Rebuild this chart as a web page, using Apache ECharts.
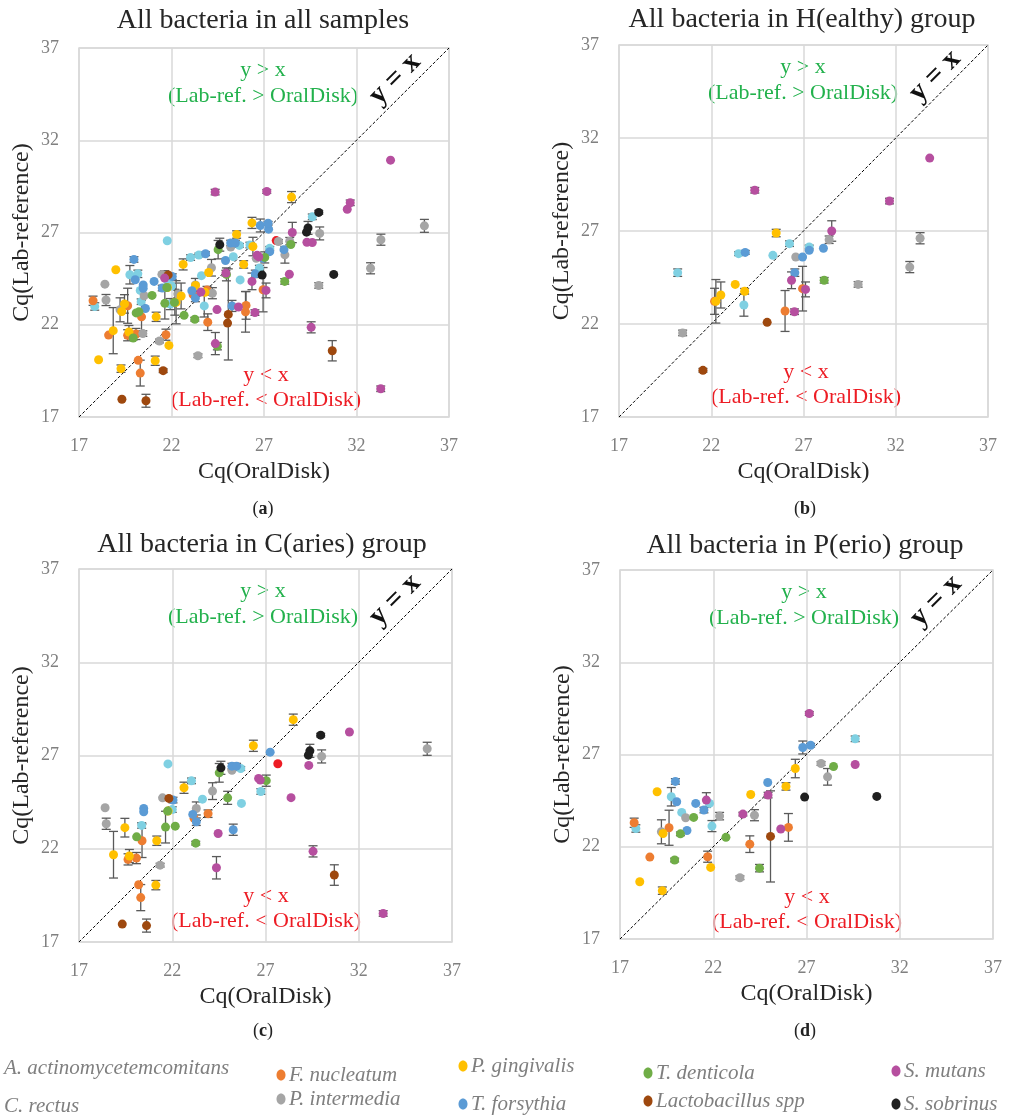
<!DOCTYPE html>
<html>
<head>
<meta charset="utf-8">
<script src="https://cdn.jsdelivr.net/npm/echarts/dist/echarts.min.js"></script>
<style>
  html, body { margin: 0; padding: 0; background: #fff; }
  #chart { width: 1012px; height: 1116px; }
</style>
</head>
<body>
<div id="chart"></div>
<script>
// Cq values: [Cq(OralDisk), Cq(Lab-reference), error (±)] for each sample

// ---- H(ealthy) group ----
const H_Aa = [];
const H_Cr = [[20.18, 24.76, 0.2], [23.48, 25.78, 0.1], [25.34, 25.69, 0], [26.24, 26.32, 0.15], [27.31, 26.14, 0.1], [23.77, 23.02, 0.6]];
const H_Fn = [[26.95, 23.90, 1.2], [26.0, 22.70, 1.1], [22.18, 23.22, 0.7]];
const H_Pi = [[20.45, 21.52, 0.15], [26.58, 25.60, 0], [28.39, 26.53, 0.2], [33.32, 26.61, 0.3], [32.76, 25.06, 0.3], [29.96, 24.13, 0.15]];
const H_Pg = [[25.52, 26.89, 0.2], [23.30, 24.13, 0], [23.81, 23.76, 0.15], [22.52, 23.56, 0.7], [22.25, 23.22, 1.17]];
const H_Tf = [[23.84, 25.85, 0.1], [26.95, 25.60, 0], [27.31, 25.96, 0], [28.08, 26.07, 0], [26.53, 24.76, 0.2]];
const H_Td = [[28.12, 24.35, 0.15]];
const H_Lb = [[21.55, 19.51, 0.1], [25.03, 22.09, 0]];
const H_Sm = [[24.36, 29.19, 0.15], [28.53, 27.0, 0.55], [33.84, 30.92, 0], [31.66, 28.61, 0.15], [26.35, 24.35, 0.45], [27.11, 23.86, 0.4], [26.51, 22.66, 0.15]];
const H_Ss = [];

// ---- C(aries) group ----
const C_Aa = [[27.66, 26.56, 0]];
const C_Cr = [[21.77, 26.55, 0], [23.03, 25.64, 0.15], [25.67, 26.3, 0.1], [26.75, 25.07, 0.15], [25.71, 24.43, 0], [23.62, 24.66, 0], [22.0, 24.1, 0.15], [20.36, 23.25, 0.15]];
const C_Fn = [[23.92, 23.88, 0.2], [23.17, 23.63, 0], [20.38, 22.43, 0.9], [19.63, 21.43, 0.3], [20.08, 21.5, 0.3], [20.2, 20.07, 0], [20.31, 19.38, 0.7]];
const C_Pi = [[25.2, 26.21, 0], [24.16, 25.09, 0.45], [21.48, 24.73, 0], [18.40, 24.2, 0], [23.29, 24.16, 0.35], [18.46, 23.34, 0.3], [21.35, 21.12, 0.1], [30.01, 26.95, 0.35], [35.67, 27.36, 0.35]];
const C_Pg = [[26.35, 27.52, 0.3], [22.63, 25.27, 0.3], [21.78, 24.02, 0], [19.46, 23.13, 0.5], [21.17, 22.43, 0.25], [18.85, 21.68, 1.25], [19.7, 21.61, 0.35], [21.12, 20.05, 0.25], [28.49, 28.92, 0.3]];
const C_Tf = [[27.25, 27.18, 0], [25.2, 26.43, 0.15], [25.45, 26.43, 0.15], [22.04, 24.61, 0.15], [20.47, 24.16, 0], [20.47, 23.98, 0], [23.1, 23.84, 0], [23.29, 23.45, 0.2], [25.27, 23.02, 0.3]];
const C_Td = [[24.52, 26.07, 0.5], [24.97, 24.73, 0.35], [21.75, 24.02, 0], [20.09, 22.64, 0], [21.64, 23.16, 0.85], [22.16, 23.21, 0], [23.26, 22.3, 0.1], [27.04, 25.65, 0.3]];
const C_Lb = [[21.82, 24.7, 0], [19.32, 17.96, 0], [20.62, 17.88, 0.35], [30.69, 20.59, 0.55]];
const C_Sm = [[26.63, 25.77, 0], [26.72, 25.68, 0], [24.46, 22.82, 0], [24.37, 20.98, 0.6], [29.32, 26.47, 0], [31.5, 28.26, 0], [28.37, 24.74, 0], [29.55, 21.86, 0.3], [33.31, 18.53, 0.15]];
const C_Ss = [[24.61, 26.34, 0.35], [29.96, 28.09, 0.1], [29.38, 27.25, 0.35], [29.3, 27.02, 0]];

// ---- P(erio) group ----
const P_Aa = [];
const P_Cr = [[29.61, 27.85, 0.15], [19.75, 24.71, 0.5], [21.8, 24.35, 0], [20.31, 23.86, 0], [21.93, 23.12, 0.3], [17.85, 22.99, 0.2]];
const P_Fn = [[26.03, 23.05, 0.75], [23.96, 22.14, 0.45], [21.7, 21.46, 0.3], [19.63, 23.03, 0.95], [17.76, 23.3, 0.25], [18.6, 21.44, 0]];
const P_Pi = [[27.78, 26.51, 0.1], [28.13, 25.79, 0.45], [24.21, 23.71, 0.3], [23.43, 20.32, 0.1], [22.34, 23.66, 0.2], [20.52, 23.57, 0], [19.22, 22.81, 0.65]];
const P_Pg = [[26.4, 26.24, 0.5], [25.9, 25.27, 0.2], [24.01, 24.83, 0], [21.86, 20.88, 0], [18.99, 24.98, 0], [19.31, 22.72, 0], [18.06, 20.1, 0], [19.27, 19.62, 0.2]];
const P_Tf = [[26.8, 27.38, 0.35], [27.22, 27.5, 0.1], [24.92, 25.48, 0], [19.97, 25.54, 0.15], [20.04, 24.44, 0], [21.06, 24.35, 0], [21.5, 23.99, 0.15], [20.59, 22.88, 0]];
const P_Td = [[28.45, 26.35, 0], [24.48, 20.84, 0.2], [22.68, 22.51, 0], [20.95, 23.59, 0], [20.24, 22.70, 0.1], [19.93, 21.28, 0.1]];
const P_Lb = [[25.07, 22.56, 2.47]];
const P_Sm = [[27.15, 29.22, 0.1], [29.61, 26.46, 0], [24.94, 24.8, 0.15], [23.59, 23.77, 0.1], [25.62, 22.96, 0], [21.63, 24.53, 0.4]];
const P_Ss = [[26.9, 24.69, 0], [30.77, 24.73, 0]];

// Species, in series order
const speciesNames = ['A. actinomycetemcomitans', 'C. rectus', 'F. nucleatum', 'P. intermedia', 'P. gingivalis',
                      'T. forsythia', 'T. denticola', 'Lactobacillus spp', 'S. mutans', 'S. sobrinus'];
const speciesColors = ['#ed1c24', '#7fd0e2', '#ed7d31', '#a5a5a5', '#ffc000',
                       '#5b9bd5', '#70ad47', '#9e480e', '#b64f9f', '#1f1f1f'];

const healthy = [H_Aa, H_Cr, H_Fn, H_Pi, H_Pg, H_Tf, H_Td, H_Lb, H_Sm, H_Ss];
const caries  = [C_Aa, C_Cr, C_Fn, C_Pi, C_Pg, C_Tf, C_Td, C_Lb, C_Sm, C_Ss];
const perio   = [P_Aa, P_Cr, P_Fn, P_Pi, P_Pg, P_Tf, P_Td, P_Lb, P_Sm, P_Ss];
// "All samples" pools the three groups
const allSamples = speciesNames.map((_, i) => healthy[i].concat(caries[i], perio[i]));

const axisTicks = [17, 22, 27, 32, 37];
const panelTitles = ['All bacteria in all samples', 'All bacteria in H(ealthy) group',
                     'All bacteria in C(aries) group', 'All bacteria in P(erio) group'];
const panelTags = ['a', 'b', 'c', 'd'];
const panelData = [allSamples, healthy, caries, perio];

// ---- layout ----
const FONT = '"Liberation Serif", "Times New Roman", serif';
const rects = [
  { left: 79,  top: 48,  width: 370, height: 369 },
  { left: 619, top: 45,  width: 369, height: 372 },
  { left: 79,  top: 569, width: 373, height: 373 },
  { left: 620, top: 570, width: 373, height: 369 }
];
const titlePos = [[263, 21], [802, 20], [262, 545], [805, 546]];
const tagPos = [[263, 509], [805, 509], [263, 1031], [805, 1031]];

const grids = [], xAxes = [], yAxes = [], series = [], graphics = [];

function errorBars(idx, pts) {
  return {
    type: 'custom', xAxisIndex: idx, yAxisIndex: idx, z: 2, silent: true,
    encode: { x: 0, y: 1 },
    data: pts.filter(p => p[2] > 0),
    renderItem(params, api) {
      const x = api.value(0), y = api.value(1), e = api.value(2);
      const top = api.coord([x, y + e]);
      const bot = api.coord([x, y - e]);
      const hw = 4.5;
      const style = { stroke: '#5a5a5a', lineWidth: 1.3 };
      return {
        type: 'group',
        children: [
          { type: 'line', shape: { x1: top[0], y1: top[1], x2: bot[0], y2: bot[1] }, style },
          { type: 'line', shape: { x1: top[0] - hw, y1: top[1], x2: top[0] + hw, y2: top[1] }, style },
          { type: 'line', shape: { x1: bot[0] - hw, y1: bot[1], x2: bot[0] + hw, y2: bot[1] }, style }
        ]
      };
    }
  };
}

rects.forEach((r, i) => {
  grids.push(Object.assign({ show: true, borderColor: '#d9d9d9', borderWidth: 1.5, containLabel: false }, r));
  const common = {
    gridIndex: i, type: 'value', min: axisTicks[0], max: axisTicks[axisTicks.length - 1],
    interval: axisTicks[1] - axisTicks[0],
    axisLine: { show: false }, axisTick: { show: false },
    splitLine: { show: true, lineStyle: { color: '#d9d9d9', width: 1.5 } },
    axisLabel: { color: '#808080', fontSize: 18, fontFamily: FONT, margin: 20 },
    nameLocation: 'middle',
    nameTextStyle: { fontSize: 24, color: '#262626', fontFamily: FONT }
  };
  xAxes.push(Object.assign({}, common, { name: 'Cq(OralDisk)', nameGap: 43 }));
  yAxes.push(Object.assign({}, common, { name: 'Cq(Lab-reference)', nameGap: 45 }));

  // y = x reference line
  series.push({
    type: 'line', xAxisIndex: i, yAxisIndex: i, silent: true, symbol: 'none', z: 1,
    data: [[17, 17], [37, 37]],
    lineStyle: { color: '#000', width: 1, type: [3, 2] }
  });

  const groups = panelData[i];
  series.push(errorBars(i, [].concat(...groups)));
  groups.forEach((pts, s) => {
    series.push({
      type: 'scatter', name: speciesNames[s], xAxisIndex: i, yAxisIndex: i, z: 3,
      symbol: 'circle', symbolSize: 9,
      itemStyle: { color: speciesColors[s], opacity: 1 },
      data: pts.map(p => [p[0], p[1]])
    });
  });

  // titles and annotations
  graphics.push({
    type: 'text', x: titlePos[i][0], y: titlePos[i][1],
    style: { text: panelTitles[i], font: '28px ' + FONT, fill: '#262626', align: 'center', verticalAlign: 'middle' }
  });
  const green = '#22b14c', red = '#ed1c24';
  const addText = (dx, dy, text, fill) => graphics.push({
    type: 'text', x: r.left + dx, y: r.top + dy,
    style: { text, font: '22px ' + FONT, fill, align: 'center', verticalAlign: 'middle' }
  });
  addText(184, 22, 'y > x', green);
  addText(184, 48, '(Lab-ref. > OralDisk)', green);
  addText(187, 327, 'y < x', red);
  addText(187, 352, '(Lab-ref. < OralDisk)', red);
  graphics.push({
    type: 'text', x: r.left + 316, y: r.top + 31, rotation: Math.PI / 4,
    style: { text: 'y = x', font: 'bold 29px ' + FONT, fill: '#111', align: 'center', verticalAlign: 'middle' }
  });
  graphics.push({
    type: 'text', x: tagPos[i][0], y: tagPos[i][1],
    style: {
      text: '({b|' + panelTags[i] + '})', font: '18px ' + FONT, fill: '#222',
      align: 'center', verticalAlign: 'middle',
      rich: { b: { fontWeight: 'bold', fontSize: 18, fontFamily: FONT, fill: '#222' } }
    }
  });
});

// ---- legend ----
const legendPos = [[4, 1068, false], [4, 1106, false], [281, 1075, true], [281, 1099, true], [463, 1066, true],
                   [463, 1104, true], [648, 1073, true], [648, 1101, true], [896, 1071, true], [896, 1104, true]];
speciesNames.forEach((name, s) => {
  const [lx, ly, dot] = legendPos[s];
  if (dot) {
    graphics.push({ type: 'ellipse', shape: { cx: lx, cy: ly, rx: 4.5, ry: 5.5 }, style: { fill: speciesColors[s] } });
  }
  graphics.push({
    type: 'text', x: dot ? lx + 8 : lx, y: ly,
    style: { text: name, font: 'italic 21px ' + FONT, fill: '#7f7f7f', align: 'left', verticalAlign: 'middle' }
  });
});

const chart = echarts.init(document.getElementById('chart'), null, { renderer: 'canvas' });
chart.setOption({
  animation: false,
  backgroundColor: '#fff',
  grid: grids, xAxis: xAxes, yAxis: yAxes,
  series: series,
  graphic: graphics
});
</script>
</body>
</html>
